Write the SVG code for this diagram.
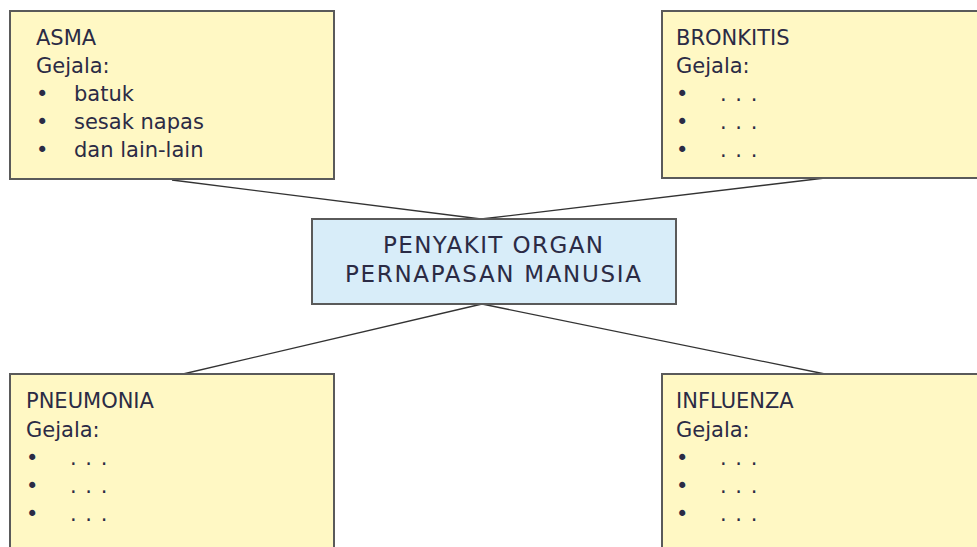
<svg xmlns="http://www.w3.org/2000/svg" width="977" height="547" viewBox="0 0 977 547">
<style>
.box{fill:#fff8c4;stroke:#5a5a5a;stroke-width:2}
.ctr{fill:#d8edf9;stroke:#5a5a5a;stroke-width:2}
text{font-family:"DejaVu Sans","Noto Sans",sans-serif;font-size:21px;fill:#2b2b45}
.c{text-anchor:middle;font-size:23px}
.d{letter-spacing:1px}
.ln{stroke:#333;stroke-width:1.3;fill:none}
</style>
<rect width="977" height="547" fill="#fff"/>
<g id="connectors">
<line class="ln" x1="172" y1="180" x2="481" y2="219"/>
<line class="ln" x1="825" y1="178" x2="481" y2="219"/>
<line class="ln" x1="482" y1="304" x2="183" y2="374"/>
<line class="ln" x1="482" y1="304" x2="825" y2="374"/>
</g>
<g id="asma">
<rect class="box" x="10" y="11" width="324" height="168"/>
<text x="36" y="45">ASMA</text>
<text x="36" y="73">Gejala:</text>
<text x="36" y="101">•</text><text x="74" y="101">batuk</text>
<text x="36" y="129">•</text><text x="74" y="129">sesak napas</text>
<text x="36" y="157">•</text><text x="74" y="157">dan lain-lain</text>
</g>
<g id="bronkitis">
<rect class="box" x="662" y="11" width="330" height="167"/>
<text x="676" y="45">BRONKITIS</text>
<text x="676" y="73">Gejala:</text>
<text x="676" y="101">•</text><text class="d" x="720" y="101">. . .</text>
<text x="676" y="129">•</text><text class="d" x="720" y="129">. . .</text>
<text x="676" y="157">•</text><text class="d" x="720" y="157">. . .</text>
</g>
<g id="center">
<rect class="ctr" x="312" y="219" width="364" height="85"/>
<text class="c" x="493" y="253" textLength="220" lengthAdjust="spacing">PENYAKIT ORGAN</text>
<text class="c" x="493" y="282" textLength="296" lengthAdjust="spacing">PERNAPASAN MANUSIA</text>
</g>
<g id="pneumonia">
<rect class="box" x="10" y="374" width="324" height="190"/>
<text x="26" y="408">PNEUMONIA</text>
<text x="26" y="437">Gejala:</text>
<text x="26" y="465">•</text><text class="d" x="70" y="465">. . .</text>
<text x="26" y="493">•</text><text class="d" x="70" y="493">. . .</text>
<text x="26" y="521">•</text><text class="d" x="70" y="521">. . .</text>
</g>
<g id="influenza">
<rect class="box" x="662" y="374" width="330" height="190"/>
<text x="676" y="408">INFLUENZA</text>
<text x="676" y="437">Gejala:</text>
<text x="676" y="465">•</text><text class="d" x="720" y="465">. . .</text>
<text x="676" y="493">•</text><text class="d" x="720" y="493">. . .</text>
<text x="676" y="521">•</text><text class="d" x="720" y="521">. . .</text>
</g>
</svg>
